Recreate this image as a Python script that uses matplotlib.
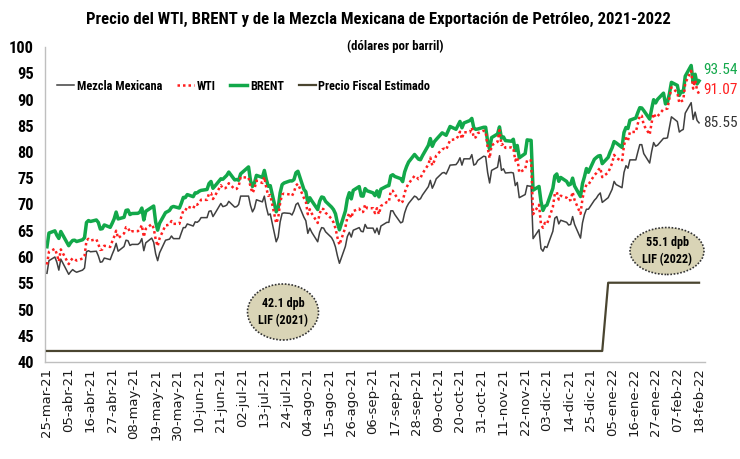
import os
import matplotlib
matplotlib.use("Agg")
import matplotlib.pyplot as plt
from matplotlib.patches import Ellipse
from matplotlib import font_manager
from matplotlib.font_manager import FontProperties
import pandas as pd
import numpy as np

# ---------------- data ----------------
months = ["2021-03", "2021-04", "2021-05", "2021-06", "2021-07", "2021-08",
          "2021-09", "2021-10", "2021-11", "2021-12", "2022-01", "2022-02"]

brent = {
 "2021-03": [61.95, 64.57, 64.98, 64.14, 63.54],
 "2021-04": [64.86, 62.15, 62.74, 63.16, 63.20, 62.95, 63.28, 63.67, 66.58, 66.94, 66.77, 67.05, 66.57, 65.32, 65.40, 66.11, 65.65, 66.42, 67.27, 68.56, 67.25],
 "2021-05": [67.56, 68.88, 68.96, 68.09, 68.28, 68.32, 68.55, 69.32, 67.05, 68.71, 69.46, 69.71, 66.66, 65.11, 66.44, 68.46, 68.65, 68.87, 69.46, 69.63, 69.32],
 "2021-06": [70.25, 71.35, 71.31, 71.89, 71.49, 72.22, 72.22, 72.52, 72.69, 72.86, 73.99, 74.39, 73.08, 73.51, 74.90, 74.81, 75.19, 75.56, 76.18, 74.68, 74.76, 74.62],
 "2021-07": [75.84, 76.17, 77.16, 74.53, 73.43, 74.12, 75.55, 75.16, 76.49, 74.76, 73.47, 73.59, 68.62, 69.35, 72.23, 73.79, 74.10, 74.50, 74.48, 74.74, 76.05, 76.33],
 "2021-08": [72.89, 72.41, 70.38, 71.29, 70.70, 69.04, 70.63, 71.44, 71.31, 70.59, 69.51, 69.03, 68.23, 66.45, 65.18, 68.75, 71.05, 72.25, 71.07, 72.70, 73.41, 71.63],
 "2021-09": [71.59, 73.03, 72.61, 72.22, 71.69, 72.60, 71.45, 72.92, 73.51, 73.60, 75.46, 75.67, 75.34, 74.92, 74.36, 76.19, 77.25, 78.09, 79.53, 79.09, 78.64, 78.52],
 "2021-10": [79.28, 81.26, 82.56, 81.08, 81.95, 82.39, 83.65, 83.42, 83.18, 84.00, 84.86, 84.33, 85.08, 85.82, 84.61, 85.53, 85.99, 86.40, 84.58, 84.32, 84.38],
 "2021-11": [84.71, 84.72, 81.99, 80.54, 82.74, 83.43, 84.78, 82.64, 82.87, 82.17, 82.05, 82.43, 80.28, 81.24, 78.89, 79.70, 82.31, 82.25, 82.22, 72.72, 73.44, 70.57],
 "2021-12": [68.87, 69.67, 69.88, 73.08, 75.44, 75.82, 74.42, 75.15, 74.39, 73.70, 73.88, 75.02, 73.52, 71.52, 73.98, 75.29, 76.85, 76.14, 78.60, 78.94, 79.23, 79.32, 77.78],
 "2022-01": [78.98, 80.00, 80.80, 81.99, 81.75, 80.87, 83.72, 84.67, 84.47, 86.06, 86.48, 87.51, 88.44, 88.38, 87.89, 86.27, 88.20, 89.96, 89.34, 90.03, 91.21],
 "2022-02": [89.16, 89.47, 91.11, 93.27, 92.69, 90.78, 91.55, 91.41, 94.44, 96.48, 93.28, 94.81, 92.97, 93.54],
}

wti = {
 "2021-03": [58.56, 60.97, 61.56, 60.55, 59.16],
 "2021-04": [61.45, 58.65, 59.33, 59.77, 59.60, 59.32, 59.70, 60.18, 63.15, 63.46, 63.13, 63.38, 62.44, 61.35, 61.43, 62.14, 61.91, 62.94, 63.86, 65.01, 63.58],
 "2021-05": [64.49, 65.69, 65.63, 64.71, 64.90, 64.92, 65.28, 66.08, 63.82, 65.37, 66.27, 65.49, 63.36, 62.05, 63.58, 66.05, 66.07, 66.21, 66.85, 66.32, 66.32],
 "2021-06": [67.72, 68.83, 68.81, 69.62, 69.23, 70.05, 69.96, 70.29, 70.91, 70.88, 72.12, 72.15, 71.04, 71.64, 73.66, 73.06, 73.08, 73.30, 74.05, 72.91, 72.98, 73.47],
 "2021-07": [75.23, 75.16, 75.16, 73.37, 72.20, 72.94, 74.56, 74.10, 75.25, 73.13, 71.65, 71.81, 66.42, 67.42, 70.30, 71.91, 72.07, 71.91, 71.65, 72.39, 73.62, 73.95],
 "2021-08": [71.26, 70.56, 68.15, 69.09, 68.28, 66.48, 68.29, 69.25, 69.09, 68.44, 67.29, 66.59, 65.46, 63.69, 62.32, 65.64, 67.54, 68.36, 67.42, 68.74, 69.21, 68.50],
 "2021-09": [68.59, 69.99, 69.29, 69.29, 68.35, 69.30, 68.14, 69.72, 70.45, 70.46, 72.61, 72.61, 71.97, 70.29, 70.56, 72.23, 73.30, 73.98, 75.45, 75.29, 74.83, 75.03],
 "2021-10": [75.88, 77.62, 78.93, 77.43, 78.30, 79.35, 80.52, 80.64, 80.44, 81.31, 82.28, 82.44, 82.96, 83.87, 82.50, 83.76, 83.76, 84.65, 82.66, 82.81, 83.57],
 "2021-11": [84.05, 83.91, 80.86, 78.81, 81.27, 81.93, 84.15, 81.34, 81.59, 80.79, 80.88, 80.76, 78.36, 79.01, 76.10, 76.75, 78.50, 78.39, 78.39, 68.15, 69.95, 66.18],
 "2021-12": [65.57, 66.50, 66.26, 69.49, 72.05, 72.36, 70.94, 71.67, 71.29, 70.73, 70.87, 72.38, 70.86, 68.23, 71.12, 72.76, 73.79, 73.79, 75.57, 75.98, 76.56, 76.99, 75.21],
 "2022-01": [76.08, 76.99, 77.85, 79.46, 78.90, 78.23, 81.22, 82.64, 82.12, 83.82, 83.82, 85.43, 86.96, 86.90, 85.14, 83.31, 85.60, 87.35, 86.61, 86.82, 88.15],
 "2022-02": [88.20, 88.26, 90.27, 92.31, 91.32, 89.36, 89.66, 89.88, 93.10, 95.46, 92.07, 93.66, 91.76, 91.07],
}

mezcla = {
 "2021-03": [56.9, 59.3, 60.0, 59.0, 57.5],
 "2021-04": [59.6, 56.7, 57.2, 57.6, 57.3, 57.1, 57.5, 57.9, 61.0, 61.2, 61.0, 61.1, 60.2, 59.0, 59.1, 59.8, 59.5, 60.5, 61.4, 62.6, 61.1],
 "2021-05": [62.0, 63.2, 63.1, 62.2, 62.4, 62.4, 62.7, 63.5, 61.2, 62.7, 63.6, 62.8, 60.6, 59.3, 60.8, 63.2, 63.3, 63.4, 64.0, 63.5, 63.5],
 "2021-06": [64.6, 65.6, 65.6, 66.3, 65.9, 66.7, 66.6, 66.9, 67.5, 67.5, 68.7, 68.8, 67.7, 68.3, 70.2, 69.6, 69.7, 69.9, 70.6, 69.5, 69.6, 70.0],
 "2021-07": [71.6, 71.6, 71.6, 69.8, 68.6, 69.3, 70.9, 70.5, 71.6, 69.5, 68.0, 68.2, 62.9, 63.8, 66.7, 68.3, 68.4, 68.3, 68.0, 68.8, 70.0, 70.3],
 "2021-08": [67.6, 66.9, 64.5, 65.5, 64.7, 62.9, 64.7, 65.6, 65.5, 64.8, 63.7, 63.0, 61.9, 60.2, 58.8, 62.0, 63.9, 64.7, 63.8, 65.1, 65.6, 64.9],
 "2021-09": [64.8, 66.2, 65.5, 65.5, 64.6, 65.5, 64.3, 65.9, 66.6, 66.6, 68.8, 68.8, 68.1, 66.5, 66.7, 68.4, 69.5, 70.2, 71.6, 71.4, 70.9, 71.1],
 "2021-10": [71.8, 73.4, 74.6, 73.1, 73.9, 74.9, 76.0, 76.1, 75.8, 76.6, 77.5, 77.6, 78.1, 78.9, 77.5, 78.7, 78.7, 79.5, 77.5, 77.7, 78.4],
 "2021-11": [79.2, 79.1, 76.1, 74.1, 76.5, 77.1, 79.3, 76.5, 76.8, 76.0, 76.1, 76.0, 73.6, 74.2, 71.3, 71.9, 73.6, 73.5, 73.5, 63.5, 65.2, 61.6],
 "2021-12": [61.1, 62.0, 61.8, 64.9, 67.4, 67.7, 66.3, 67.0, 66.6, 66.1, 66.2, 67.7, 66.2, 63.6, 66.5, 68.1, 69.1, 69.1, 70.8, 71.2, 71.8, 72.2, 70.4],
 "2022-01": [71.3, 72.1, 72.9, 74.4, 73.8, 73.2, 76.1, 77.4, 76.9, 78.5, 78.5, 80.0, 81.4, 81.4, 79.7, 77.9, 80.1, 81.8, 81.1, 81.3, 82.6],
 "2022-02": [82.6, 82.7, 84.7, 86.7, 85.8, 83.8, 84.1, 84.3, 87.4, 89.4, 86.2, 87.6, 86.0, 85.55],
}

fiscal_2021 = 42.1
fiscal_2022 = 55.1
end_labels = ["93.54", "91.07", "85.55"]

start_date = "2021-03-25"
end_date = "2022-02-18"
holidays = ["2021-04-02"]

series_names = ["Mezcla Mexicana", "WTI", "BRENT", "Precio Fiscal Estimado"]
mes = {1: "ene", 2: "feb", 3: "mar", 4: "abr", 5: "may", 6: "jun", 7: "jul",
       8: "ago", 9: "sep", 10: "oct", 11: "nov", 12: "dic"}

# ---------------- build ----------------
all_days = pd.bdate_range(start_date, end_date)
all_days = all_days[~all_days.isin(pd.to_datetime(holidays))]
dates, b, w, m = [], [], [], []
for mo in months:
    d = all_days[all_days.strftime("%Y-%m") == mo]
    assert len(d) == len(brent[mo]) == len(wti[mo]) == len(mezcla[mo]), mo
    dates += list(d); b += brent[mo]; w += wti[mo]; m += mezcla[mo]
dates = pd.DatetimeIndex(dates)
fiscal = np.where(dates.year == 2021, fiscal_2021, fiscal_2022)

# ---------------- fonts ----------------
def find_font(patterns):
    files = [f.fname for f in font_manager.fontManager.ttflist]
    for p in patterns:
        for fn in files:
            if os.path.basename(fn).lower() == p:
                return fn
    return None

bold_path = find_font(["liberationsansnarrow-bold.ttf", "robotocondensed-bold.ttf",
                       "dejavusanscondensed-bold.ttf", "opensans_condensed-bold.ttf",
                       "opensanscondensed-bold.ttf", "lato-bold.ttf"])
reg_path = find_font(["liberationsansnarrow-regular.ttf", "robotocondensed-regular.ttf",
                      "dejavusanscondensed.ttf", "liberationsans-regular.ttf"])

def fp_bold(size):
    if bold_path:
        return FontProperties(fname=bold_path, size=size)
    return FontProperties(family="Lato", weight="bold", size=size)

def fp_reg(size):
    if reg_path:
        return FontProperties(fname=reg_path, size=size)
    return FontProperties(family="Liberation Sans", size=size)

W, H = 740, 459
fig = plt.figure(figsize=(W / 100, H / 100), dpi=100)
renderer = fig.canvas.get_renderer()

def fit(text, maker, target_px):
    t = fig.text(0, 0, text, fontproperties=maker(10))
    wpx = t.get_window_extent(renderer).width
    t.remove()
    return 10 * target_px / wpx

s_title = fit("Precio del WTI, BRENT y de la Mezcla Mexicana de Exportación de Petróleo, 2021-2022", fp_bold, 582)
s_sub = min(fit("(dólares por barril)", fp_bold, 97), 11)
s_leg = fit("Mezcla Mexicana", fp_bold, 85)
s_ytick = min(fit("100", fp_bold, 25), 13.5)
s_end = fit("93.54", fp_reg, 34)
s_call = fit("LIF (2021)", fp_bold, 50)

ax = fig.add_axes([45 / W, 97 / H, 660 / W, 315 / H])

c_mez = "#404040"
c_wti = "#FF1F1F"
c_brent = "#12A84A"
c_fis = "#4A4530"

ax.plot(dates, m, color=c_mez, lw=1.1, label=series_names[0], zorder=3)
ax.plot(dates, w, color=c_wti, lw=1.8, ls=(0, (1, 1.2)), label=series_names[1], zorder=4)
ax.plot(dates, b, color=c_brent, lw=2.5, label=series_names[2], zorder=2)
ax.plot(dates, fiscal, color=c_fis, lw=1.6, label=series_names[3], zorder=3)

ax.set_ylim(40, 100)
ax.set_yticks(np.arange(40, 101, 5))
ax.set_xlim(pd.Timestamp("2021-03-24"), pd.Timestamp("2022-02-21"))
ticks = pd.date_range("2021-03-25", "2022-02-18", freq="11D")
ax.set_xticks(ticks)
ax.set_xticklabels([f"{t.day:02d}-{mes[t.month]}-{t.strftime('%y')}" for t in ticks],
                   rotation=90, fontsize=9.5, color="#1a1a1a", family="DejaVu Sans")
for lab in ax.get_yticklabels():
    lab.set_fontproperties(fp_bold(s_ytick))
ax.tick_params(axis="y", length=0, pad=8)
ax.tick_params(axis="x", length=0, pad=4)
for s in ["top", "right"]:
    ax.spines[s].set_visible(False)
for s in ["left", "bottom"]:
    ax.spines[s].set_color("#BFBFBF")
    ax.spines[s].set_linewidth(1.0)

# title
fig.text(378 / W, 1 - 19 / H, "Precio del WTI, BRENT y de la Mezcla Mexicana de Exportación de Petróleo, 2021-2022",
         ha="center", va="center", fontproperties=fp_bold(s_title))
fig.text(395 / W, 1 - 46 / H, "(dólares por barril)", ha="center", va="center",
         fontproperties=fp_bold(s_sub))

# legend
leg = ax.legend(loc="center left", bbox_to_anchor=(12 / 660, 0.876), ncol=4, frameon=False,
                handlelength=1.4, handletextpad=0.2, columnspacing=1.2,
                borderaxespad=0, borderpad=0, prop=fp_bold(s_leg))

# end value labels
last = dates[-1]
ax.annotate(end_labels[0], (last, b[-1]), xytext=(3, 7.5), textcoords="offset points",
            color=c_brent, va="center", fontproperties=fp_reg(s_end), annotation_clip=False)
ax.annotate(end_labels[1], (last, w[-1]), xytext=(3, 2.5), textcoords="offset points",
            color=c_wti, va="center", fontproperties=fp_reg(s_end), annotation_clip=False)
ax.annotate(end_labels[2], (last, m[-1]), xytext=(3, 0), textcoords="offset points",
            color="#333333", va="center", fontproperties=fp_reg(s_end), annotation_clip=False)

# ellipse callouts
def callout(cx, cy, w_, h_, txt):
    e = Ellipse((cx / W, 1 - cy / H), w_ / W, h_ / H, transform=fig.transFigure,
                facecolor="#D9D4B6", edgecolor="#333333", lw=1.2, ls=(0, (1, 1)), zorder=5)
    fig.add_artist(e)
    fig.text(cx / W, 1 - cy / H, txt, ha="center", va="center",
             fontproperties=fp_bold(s_call), linespacing=1.4, zorder=6)

callout(283, 312, 71, 56, "42.1 dpb\nLIF (2021)")
callout(667, 251, 74, 47, "55.1 dpb\nLIF (2022)")

fig.savefig("out.png", dpi=100)
